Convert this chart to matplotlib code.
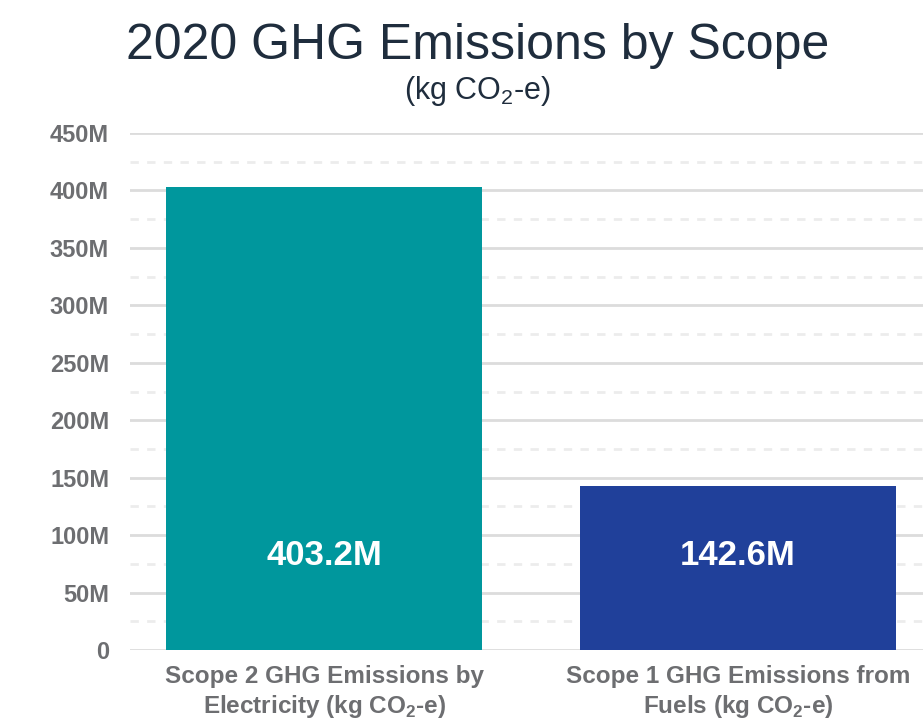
import matplotlib.pyplot as plt
from matplotlib.ticker import FuncFormatter, MultipleLocator

plt.rcParams["font.family"] = ["Liberation Sans", "DejaVu Sans"]
plt.rcParams["mathtext.fontset"] = "custom"
plt.rcParams["mathtext.rm"] = "Liberation Sans"
plt.rcParams["mathtext.bf"] = "Liberation Sans:bold"

# ---- data ----
categories = [
    "Scope 2 GHG Emissions by\nElectricity (kg CO$_\\mathbf{2}$-e)",
    "Scope 1 GHG Emissions from\nFuels (kg CO$_\\mathbf{2}$-e)",
]
emissions_m = [403.2, 142.6]          # million kg CO2-e
bar_colors = ["#00979d", "#20409a"]

GREY = "#6d6e71"
NAVY = "#1f2d3d"

fig = plt.figure(figsize=(9.23, 7.24), dpi=100)
ax = fig.add_axes([130 / 923, 74 / 724, 793 / 923, 517 / 724])

x = range(len(categories))
vals = [v * 1e6 for v in emissions_m]
ax.bar(x, vals, width=0.763, color=bar_colors, zorder=3)

for xi, v in zip(x, emissions_m):
    ax.text(xi, 82e6, f"{v:.1f}M", ha="center", va="center",
            color="white", fontsize=25, fontweight="bold", zorder=4)

ax.set_xlim(-0.469, 1.447)
ax.set_ylim(0, 450e6)
ax.yaxis.set_major_locator(MultipleLocator(50e6))
ax.yaxis.set_minor_locator(MultipleLocator(25e6))
ax.yaxis.set_major_formatter(FuncFormatter(lambda v, _: "0" if v == 0 else f"{v / 1e6:.0f}M"))

ax.grid(axis="y", which="major", color="#dcdcdc", linewidth=2, zorder=0)
ax.grid(axis="y", which="minor", color="#ececec", linewidth=2,
        linestyle=(0, (3, 3)), zorder=0)
ax.set_axisbelow(True)

ax.set_xticks(list(x))
ax.set_xticklabels(categories, fontsize=17.5, fontweight="bold", color=GREY,
                   linespacing=1.25)
for lbl in ax.get_yticklabels():
    lbl.set_fontweight("bold")
ax.tick_params(axis="y", labelsize=17, labelcolor=GREY, length=0, pad=15)
ax.tick_params(axis="x", length=0, pad=11)
ax.tick_params(axis="y", which="minor", length=0)

for s in ax.spines.values():
    s.set_visible(False)

fig.text(0.517, 0.937, "2020 GHG Emissions by Scope", ha="center", va="center",
         fontsize=36, color=NAVY)
fig.text(0.517, 0.874, "(kg CO$_2$-e)", ha="center", va="center",
         fontsize=22, color=NAVY)

fig.savefig("out.png", dpi=100)
